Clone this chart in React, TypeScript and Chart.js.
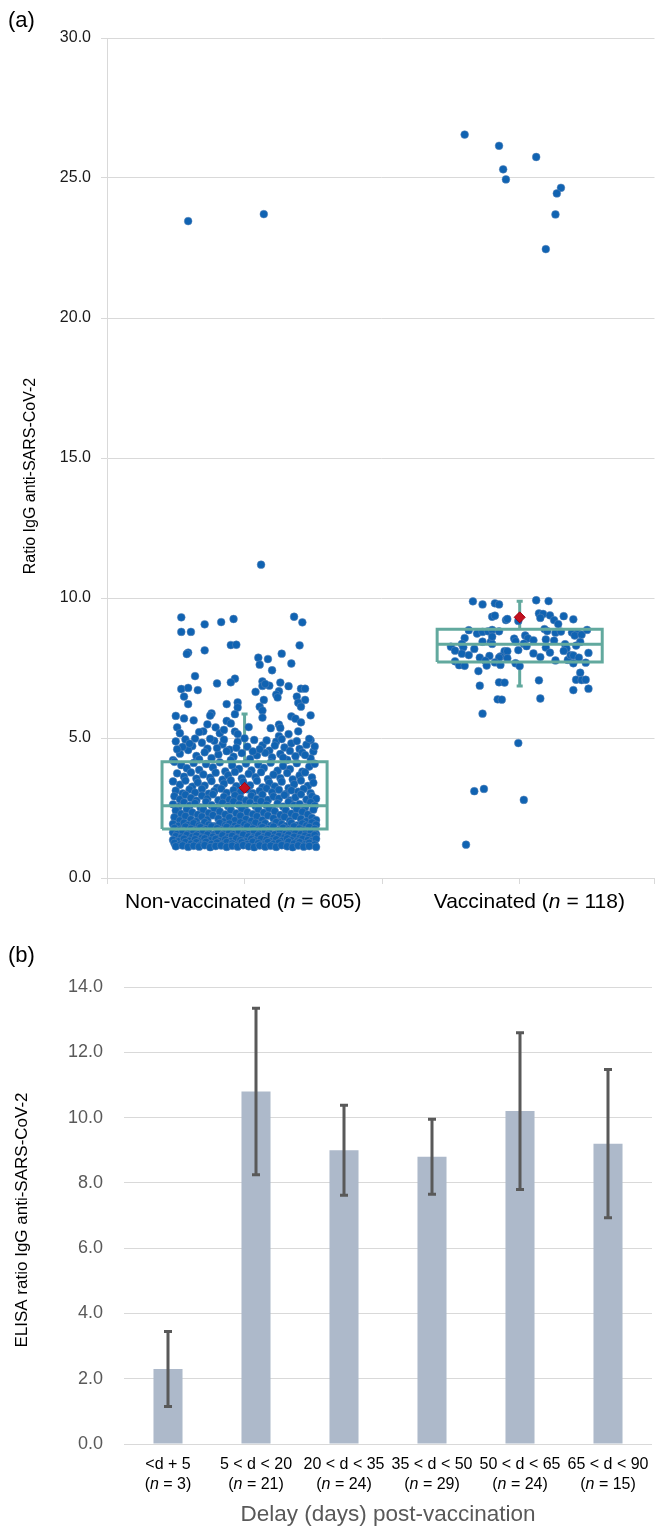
import React, { useEffect, useRef } from 'react';
import { Chart, registerables } from 'chart.js';

Chart.register(...registerables);

const FONT = '"Liberation Sans", Arial, Helvetica, sans-serif';

// ---------- Panel (a) data ----------
const groupNames = ['Non-vaccinated', 'Vaccinated'];
const groupCounts = [605, 118];
const groupCenters = [1, 3];
const groupLabelAnchors = [0.99, 3.07];

// [jitter offset from group centre, ratio]
const nonVaccinatedPoints: [number, number][] = [
  [-0.41, 23.46], [0.14, 23.71], [0.12, 11.19],
  [-0.46, 9.31], [0.36, 9.33], [-0.08, 9.25], [-0.17, 9.14], [-0.29, 9.06], [0.42, 9.13], [-0.46, 8.79], [-0.39, 8.79],
  [-0.41, 8.05], [-0.42, 8.0], [-0.29, 8.13], [-0.1, 8.32], [-0.06, 8.33], [0.4, 8.31], [0.27, 8.01], [0.1, 7.87],
  [0.17, 7.82], [0.11, 7.62], [0.34, 7.66], [0.2, 7.42], [-0.36, 7.21], [-0.07, 7.12], [-0.1, 6.99], [-0.2, 6.95],
  [0.13, 7.02], [0.13, 6.86], [0.18, 6.87], [0.15, 6.93], [0.26, 6.98], [0.32, 6.85], [-0.46, 6.75], [-0.41, 6.79],
  [-0.34, 6.71], [0.41, 6.76], [0.44, 6.76], [0.08, 6.65], [0.25, 6.67], [0.23, 6.55], [0.24, 6.45], [-0.44, 6.48],
  [0.38, 6.48], [0.44, 6.36], [0.39, 6.26], [0.41, 6.12], [-0.41, 6.21], [-0.13, 6.21], [-0.05, 6.27], [-0.05, 6.09],
  [0.11, 6.12], [0.14, 6.36], [0.13, 5.98], [-0.5, 5.79], [-0.44, 5.7], [-0.24, 5.88], [-0.25, 5.8], [-0.37, 5.63],
  [-0.07, 5.85], [-0.13, 5.61], [-0.1, 5.52], [0.13, 5.73], [0.34, 5.77], [0.37, 5.69], [0.41, 5.56], [0.48, 5.81],
  [-0.49, 5.38], [-0.47, 5.17], [-0.27, 5.49], [-0.21, 5.38], [-0.3, 5.24], [-0.33, 5.21], [-0.18, 5.17], [-0.15, 5.29],
  [-0.07, 5.23], [-0.05, 5.14], [0.03, 5.39], [0.19, 5.35], [0.25, 5.48], [0.26, 5.36], [0.32, 5.14], [0.25, 5.07],
  [0.39, 5.24], [0.48, 4.92],
  [-0.5, 4.88], [-0.43, 4.95], [-0.38, 4.71], [-0.31, 4.83], [-0.27, 4.62], [-0.22, 4.9], [-0.16, 4.77], [-0.11, 4.58],
  [-0.05, 4.86], [0.02, 4.69], [0.07, 4.93], [0.13, 4.74], [0.18, 4.55], [0.23, 4.87], [0.29, 4.66], [0.34, 4.81],
  [0.4, 4.61], [0.45, 4.76], [0.5, 4.52], [-0.47, 4.44], [-0.41, 4.57], [-0.35, 4.36], [-0.29, 4.49], [-0.24, 4.28],
  [-0.19, 4.41], [-0.13, 4.53], [-0.08, 4.33], [-0.02, 4.46], [0.04, 4.25], [0.09, 4.38], [0.15, 4.47], [0.2, 4.31],
  [0.26, 4.43], [0.31, 4.22], [0.37, 4.35], [0.42, 4.48], [0.48, 4.27], [-0.52, 4.21], [-0.45, 4.68], [-0.36, 4.98],
  [-0.2, 4.64], [0.0, 4.99], [0.11, 4.6], [0.27, 4.96], [0.38, 4.89], [0.47, 4.97], [-0.33, 4.24], [0.06, 4.52],
  [0.22, 4.73], [-0.06, 4.65], [0.33, 4.54], [-0.4, 4.8], [0.16, 4.91], [-0.25, 4.97], [0.44, 4.39], [-0.1, 4.21],
  [0.51, 4.7], [-0.49, 4.6], [0.28, 4.3], [-0.15, 4.94],
  [-0.51, 4.15], [-0.46, 4.03], [-0.42, 3.92], [-0.37, 4.11], [-0.33, 3.86], [-0.28, 4.07], [-0.23, 3.95], [-0.18, 4.13],
  [-0.14, 3.81], [-0.09, 4.02], [-0.04, 3.9], [0.01, 4.09], [0.05, 3.84], [0.1, 4.05], [0.14, 3.93], [0.19, 4.12],
  [0.24, 3.83], [0.28, 4.0], [0.33, 3.89], [0.38, 4.1], [0.42, 3.8], [0.47, 3.98], [0.51, 4.08],
  [-0.49, 3.74], [-0.44, 3.62], [-0.39, 3.77], [-0.35, 3.55], [-0.3, 3.7], [-0.25, 3.58], [-0.21, 3.76], [-0.16, 3.51],
  [-0.12, 3.67], [-0.07, 3.79], [-0.02, 3.56], [0.03, 3.72], [0.08, 3.6], [0.12, 3.78], [0.17, 3.53], [0.21, 3.69],
  [0.26, 3.57], [0.31, 3.75], [0.35, 3.52], [0.4, 3.66], [0.44, 3.77], [0.49, 3.59],
  [-0.52, 3.45], [-0.47, 3.33], [-0.43, 3.48], [-0.38, 3.26], [-0.34, 3.41], [-0.29, 3.3], [-0.24, 3.46], [-0.2, 3.22],
  [-0.15, 3.37], [-0.1, 3.49], [-0.06, 3.28], [-0.01, 3.43], [0.04, 3.31], [0.09, 3.47], [0.13, 3.24], [0.18, 3.39],
  [0.22, 3.27], [0.27, 3.44], [0.32, 3.21], [0.36, 3.35], [0.41, 3.48], [0.46, 3.29], [0.5, 3.4],
  [-0.5, 3.12], [-0.45, 3.02], [-0.4, 3.16], [-0.36, 3.05], [-0.31, 3.18], [-0.26, 3.01], [-0.22, 3.1], [-0.17, 3.19],
  [-0.13, 3.04], [-0.08, 3.14], [-0.03, 3.07], [0.02, 3.17], [0.06, 3.03], [0.11, 3.11], [0.16, 3.2], [0.2, 3.06],
  [0.25, 3.15], [0.3, 3.0], [0.34, 3.13], [0.39, 3.08], [0.43, 3.18], [0.48, 3.03],
  [-0.51, 2.92], [-0.47, 2.81], [-0.43, 2.97], [-0.39, 2.86], [-0.35, 2.76], [-0.31, 2.94], [-0.27, 2.83], [-0.23, 2.99],
  [-0.19, 2.78], [-0.15, 2.9], [-0.11, 2.8], [-0.07, 2.95], [-0.03, 2.85], [0.01, 2.77], [0.05, 2.93], [0.09, 2.82],
  [0.13, 2.98], [0.17, 2.79], [0.21, 2.91], [0.25, 2.84], [0.29, 2.96], [0.33, 2.77], [0.37, 2.88], [0.41, 2.99],
  [0.45, 2.8], [0.49, 2.92], [0.52, 2.83],
  [-0.52, 2.63], [-0.48, 2.54], [-0.44, 2.7], [-0.4, 2.58], [-0.36, 2.67], [-0.32, 2.52], [-0.28, 2.72], [-0.24, 2.6],
  [-0.2, 2.51], [-0.16, 2.68], [-0.12, 2.56], [-0.08, 2.73], [-0.04, 2.62], [0.0, 2.53], [0.04, 2.69], [0.08, 2.57],
  [0.12, 2.74], [0.16, 2.61], [0.2, 2.5], [0.24, 2.66], [0.28, 2.55], [0.32, 2.71], [0.36, 2.59], [0.4, 2.64],
  [0.44, 2.52], [0.48, 2.7], [0.51, 2.58],
  [-0.5, 2.41], [-0.46, 2.29], [-0.42, 2.46], [-0.38, 2.34], [-0.34, 2.26], [-0.3, 2.44], [-0.26, 2.32], [-0.22, 2.49],
  [-0.18, 2.37], [-0.14, 2.27], [-0.1, 2.43], [-0.06, 2.31], [-0.02, 2.47], [0.02, 2.35], [0.06, 2.28], [0.1, 2.45],
  [0.14, 2.33], [0.18, 2.48], [0.22, 2.38], [0.26, 2.25], [0.3, 2.42], [0.34, 2.3], [0.38, 2.46], [0.42, 2.36],
  [0.46, 2.27], [0.5, 2.44],
  [-0.51, 2.17], [-0.47, 2.05], [-0.43, 2.21], [-0.39, 2.09], [-0.35, 2.02], [-0.31, 2.19], [-0.27, 2.08], [-0.23, 2.24],
  [-0.19, 2.12], [-0.15, 2.01], [-0.11, 2.16], [-0.07, 2.06], [-0.03, 2.22], [0.01, 2.1], [0.05, 2.03], [0.09, 2.2],
  [0.13, 2.07], [0.17, 2.23], [0.21, 2.13], [0.25, 2.0], [0.29, 2.18], [0.33, 2.04], [0.37, 2.21], [0.41, 2.11],
  [0.45, 2.02], [0.49, 2.15], [0.52, 2.07],
  [-0.52, 1.93], [-0.48, 1.86], [-0.44, 1.97], [-0.41, 1.89], [-0.37, 1.95], [-0.33, 1.87], [-0.29, 1.99], [-0.26, 1.9],
  [-0.22, 1.85], [-0.18, 1.96], [-0.14, 1.88], [-0.11, 1.94], [-0.07, 1.86], [-0.03, 1.98], [0.0, 1.91], [0.04, 1.87],
  [0.08, 1.97], [0.12, 1.89], [0.15, 1.95], [0.19, 1.86], [0.23, 1.99], [0.27, 1.92], [0.3, 1.85], [0.34, 1.96],
  [0.38, 1.88], [0.42, 1.94], [0.45, 1.87], [0.49, 1.98], [0.52, 1.9],
  [-0.51, 1.78], [-0.47, 1.72], [-0.43, 1.83], [-0.39, 1.75], [-0.35, 1.71], [-0.32, 1.81], [-0.28, 1.74], [-0.24, 1.84],
  [-0.2, 1.77], [-0.17, 1.7], [-0.13, 1.82], [-0.09, 1.73], [-0.05, 1.79], [-0.02, 1.71], [0.02, 1.84], [0.06, 1.76],
  [0.1, 1.72], [0.13, 1.81], [0.17, 1.74], [0.21, 1.83], [0.25, 1.7], [0.28, 1.79], [0.32, 1.73], [0.36, 1.84],
  [0.4, 1.76], [0.43, 1.71], [0.47, 1.82], [0.51, 1.75],
  [-0.52, 1.63], [-0.49, 1.57], [-0.45, 1.68], [-0.41, 1.6], [-0.37, 1.66], [-0.34, 1.56], [-0.3, 1.69], [-0.26, 1.61],
  [-0.22, 1.55], [-0.19, 1.67], [-0.15, 1.59], [-0.11, 1.64], [-0.08, 1.56], [-0.04, 1.68], [0.0, 1.62], [0.03, 1.57],
  [0.07, 1.66], [0.11, 1.59], [0.15, 1.69], [0.18, 1.61], [0.22, 1.55], [0.26, 1.65], [0.3, 1.58], [0.33, 1.68],
  [0.37, 1.6], [0.41, 1.56], [0.45, 1.67], [0.48, 1.62], [0.52, 1.57],
  [-0.5, 1.49], [-0.46, 1.44], [-0.42, 1.53], [-0.38, 1.46], [-0.35, 1.51], [-0.31, 1.43], [-0.27, 1.54], [-0.23, 1.47],
  [-0.2, 1.42], [-0.16, 1.52], [-0.12, 1.45], [-0.09, 1.5], [-0.05, 1.43], [-0.01, 1.54], [0.03, 1.48], [0.06, 1.44],
  [0.1, 1.52], [0.14, 1.46], [0.17, 1.53], [0.21, 1.43], [0.25, 1.5], [0.29, 1.45], [0.32, 1.54], [0.36, 1.47],
  [0.4, 1.42], [0.44, 1.51], [0.47, 1.46], [0.51, 1.53],
  [-0.52, 1.36], [-0.48, 1.31], [-0.44, 1.4], [-0.4, 1.33], [-0.36, 1.38], [-0.33, 1.3], [-0.29, 1.41], [-0.25, 1.34],
  [-0.21, 1.39], [-0.18, 1.31], [-0.14, 1.37], [-0.1, 1.32], [-0.06, 1.41], [-0.03, 1.35], [0.01, 1.3], [0.05, 1.39],
  [0.08, 1.33], [0.12, 1.4], [0.16, 1.36], [0.19, 1.31], [0.23, 1.38], [0.27, 1.32], [0.31, 1.41], [0.34, 1.34],
  [0.38, 1.3], [0.42, 1.39], [0.46, 1.35], [0.49, 1.31], [0.52, 1.4],
  [-0.51, 1.25], [-0.47, 1.19], [-0.43, 1.28], [-0.39, 1.22], [-0.35, 1.27], [-0.32, 1.18], [-0.28, 1.29], [-0.24, 1.21],
  [-0.2, 1.26], [-0.16, 1.19], [-0.13, 1.28], [-0.09, 1.23], [-0.05, 1.18], [-0.02, 1.27], [0.02, 1.21], [0.06, 1.29],
  [0.1, 1.24], [0.14, 1.19], [0.17, 1.28], [0.21, 1.22], [0.25, 1.26], [0.29, 1.18], [0.32, 1.29], [0.36, 1.23],
  [0.4, 1.27], [0.44, 1.2], [0.47, 1.25], [0.51, 1.19],
  [-0.5, 1.13], [-0.45, 1.16], [-0.41, 1.11], [-0.37, 1.15], [-0.33, 1.12], [-0.29, 1.17], [-0.25, 1.1], [-0.21, 1.14],
  [-0.17, 1.16], [-0.13, 1.11], [-0.09, 1.15], [-0.05, 1.12], [-0.01, 1.17], [0.03, 1.13], [0.07, 1.1], [0.11, 1.16],
  [0.15, 1.12], [0.19, 1.15], [0.23, 1.11], [0.27, 1.17], [0.31, 1.13], [0.35, 1.1], [0.39, 1.16], [0.43, 1.12],
  [0.47, 1.14], [0.52, 1.11],
];

const vaccinatedPoints: [number, number][] = [
  [-0.4, 26.55], [-0.15, 26.15], [0.12, 25.75], [-0.12, 25.31], [-0.1, 24.95], [0.3, 24.65], [0.27, 24.45], [0.26, 23.7],
  [0.19, 22.46],
  [-0.34, 9.88], [-0.27, 9.77], [-0.18, 9.81], [-0.15, 9.77], [0.12, 9.92], [0.21, 9.89],
  [-0.2, 9.33], [-0.18, 9.37], [-0.1, 9.21], [-0.09, 9.25], [-0.01, 9.18], [0.14, 9.45], [0.17, 9.43], [0.22, 9.38],
  [0.15, 9.29], [0.25, 9.21], [0.28, 9.07], [0.32, 9.35], [0.39, 9.24],
  [-0.37, 8.85], [-0.31, 8.73], [-0.27, 8.79], [-0.23, 8.81], [-0.2, 8.86], [-0.15, 8.81], [0.18, 8.89], [0.2, 8.82],
  [0.26, 8.76], [0.3, 8.8], [0.38, 8.77], [0.42, 8.76], [0.4, 8.66], [0.45, 8.69], [0.49, 8.86],
  [-0.4, 8.57], [-0.5, 8.26], [-0.47, 8.12], [-0.42, 8.36], [-0.41, 8.24], [-0.42, 8.01], [-0.37, 7.96], [-0.27, 8.44],
  [-0.21, 8.43], [-0.2, 8.36], [-0.04, 8.55], [0.04, 8.66], [0.06, 8.56], [0.1, 8.49], [0.19, 8.52], [0.25, 8.48],
  [0.03, 8.37], [0.33, 8.35], [0.34, 8.2], [0.32, 8.11], [0.44, 8.43], [0.19, 8.23], [-0.01, 8.14], [-0.11, 8.1],
  [-0.09, 8.1], [-0.14, 7.91], [-0.15, 7.87], [-0.09, 7.85], [-0.22, 7.93], [-0.29, 7.87], [-0.25, 7.76], [-0.18, 7.7],
  [-0.24, 7.59], [0.1, 8.02], [0.15, 7.89], [0.26, 7.77], [0.35, 7.79], [0.37, 7.96], [0.39, 7.95], [0.43, 7.87],
  [0.5, 8.04], [0.39, 7.67], [0.48, 7.69], [-0.47, 7.74], [-0.44, 7.6], [-0.4, 7.58], [-0.14, 7.61], [-0.03, 7.67],
  [0.0, 7.57], [0.05, 8.28], [-0.03, 8.45], [0.22, 8.05], [-0.33, 8.18], [0.41, 8.3], [-0.2, 8.62],
  [-0.3, 7.39], [0.44, 7.33], [-0.29, 6.87], [-0.15, 6.99], [-0.11, 6.98], [0.14, 7.06], [0.41, 7.08], [0.45, 7.07],
  [0.48, 7.08], [0.5, 6.76], [0.39, 6.71], [-0.16, 6.38], [-0.13, 6.37], [0.15, 6.41], [-0.27, 5.87], [-0.01, 4.82],
  [-0.33, 3.1], [-0.26, 3.18], [0.03, 2.79], [-0.39, 1.19],
];

// [lower whisker, Q1, median, Q3, upper whisker, mean]
const nonVaccinatedBox = [1.1, 1.75, 2.58, 4.15, 5.86, 3.22];
const vaccinatedBox = [6.86, 7.71, 8.35, 8.88, 9.88, 9.31];

// ---------- Panel (b) data ----------
const delayLabels = ['<d + 5', '5 < d < 20', '20 < d < 35', '35 < d < 50', '50 < d < 65', '65 < d < 90'];
const delayCounts = [3, 21, 24, 29, 24, 15];
const delayMeans = [2.3, 10.8, 9.0, 8.8, 10.2, 9.2];
const delayErrors = [1.15, 2.55, 1.38, 1.15, 2.4, 2.27];

// ---------- helpers ----------
type Part = { t: string; i?: boolean };

function countParts(prefix: string, count: number): Part[] {
  return [{ t: prefix + '(' }, { t: 'n', i: true }, { t: ' = ' + count + ')' }];
}

function drawParts(ctx: CanvasRenderingContext2D, parts: Part[], cx: number, cy: number, size: number, color: string) {
  ctx.save();
  ctx.fillStyle = color;
  ctx.textBaseline = 'middle';
  ctx.textAlign = 'left';
  const fonts = parts.map((p) => `${p.i ? 'italic ' : ''}${size}px ${FONT}`);
  let total = 0;
  const widths = parts.map((p, k) => {
    ctx.font = fonts[k];
    const w = ctx.measureText(p.t).width;
    total += w;
    return w;
  });
  let x = cx - total / 2;
  parts.forEach((p, k) => {
    ctx.font = fonts[k];
    ctx.fillText(p.t, x, cy);
    x += widths[k];
  });
  ctx.restore();
}

function drawRotated(ctx: CanvasRenderingContext2D, text: string, x: number, y: number, size: number, color: string) {
  ctx.save();
  ctx.translate(x, y);
  ctx.rotate(-Math.PI / 2);
  ctx.font = `${size}px ${FONT}`;
  ctx.fillStyle = color;
  ctx.textAlign = 'center';
  ctx.textBaseline = 'middle';
  ctx.fillText(text, 0, 0);
  ctx.restore();
}

const BOX_HALF = 0.6;
const CAP_HALF = 0.022;

function boxFrame(center: number, s: number[]) {
  const [, q1, med, q3] = s;
  const gap = { x: center, y: null as any };
  return [
    { x: center - BOX_HALF, y: q1 }, { x: center - BOX_HALF, y: q3 }, { x: center + BOX_HALF, y: q3 },
    { x: center + BOX_HALF, y: q1 }, { x: center - BOX_HALF, y: q1 }, gap,
    { x: center - BOX_HALF, y: med }, { x: center + BOX_HALF, y: med },
  ];
}

function whiskers(center: number, s: number[]) {
  const [lo, q1, , q3, hi] = s;
  const gap = { x: center, y: null as any };
  return [
    { x: center, y: q3 }, { x: center, y: hi }, gap,
    { x: center - CAP_HALF, y: hi }, { x: center + CAP_HALF, y: hi }, gap,
    { x: center, y: q1 }, { x: center, y: lo }, gap,
    { x: center - CAP_HALF, y: lo }, { x: center + CAP_HALF, y: lo },
  ];
}

const TEAL = '#62A99E';
const DOT = '#1063B2';

export default function App() {
  const refA = useRef<HTMLCanvasElement>(null);
  const refB = useRef<HTMLCanvasElement>(null);

  useEffect(() => {
    const textA = {
      id: 'textA',
      afterDraw(chart: any) {
        const ctx = chart.ctx as CanvasRenderingContext2D;
        const xs = chart.scales.x;
        groupNames.forEach((name, g) => {
          drawParts(ctx, countParts(name + ' ', groupCounts[g]), xs.getPixelForValue(groupLabelAnchors[g]), 902, 21, '#000');
        });
        drawRotated(ctx, 'Ratio IgG anti-SARS-CoV-2', 31, 476, 16, '#000');
      },
    };

    const pointStyle = {
      type: 'scatter' as const,
      pointRadius: 3.9,
      pointBackgroundColor: DOT,
      pointBorderColor: '#5F87B8',
      pointBorderWidth: 0.5,
      showLine: false,
      order: 10,
    };
    const lineStyle = {
      type: 'scatter' as const,
      showLine: true,
      spanGaps: false,
      borderColor: TEAL,
      borderWidth: 3,
      pointRadius: 0,
      fill: false,
      borderJoinStyle: 'miter' as const,
    };

    const chartA = new Chart(refA.current!, {
      type: 'scatter',
      data: {
        datasets: [
          {
            label: 'mean',
            data: [
              { x: groupCenters[0], y: nonVaccinatedBox[5] },
              { x: groupCenters[1], y: vaccinatedBox[5] },
            ],
            pointStyle: 'rectRot',
            pointRadius: 5.5,
            pointBackgroundColor: '#C3101E',
            pointBorderColor: '#A00010',
            pointBorderWidth: 1,
            order: 0,
          } as any,
          { ...lineStyle, label: 'box1', data: boxFrame(groupCenters[0], nonVaccinatedBox), order: 1 } as any,
          { ...lineStyle, label: 'box2', data: boxFrame(groupCenters[1], vaccinatedBox), order: 1 } as any,
          { ...pointStyle, label: groupNames[0], data: nonVaccinatedPoints.map(([o, v]) => ({ x: groupCenters[0] + o, y: v })) } as any,
          { ...pointStyle, label: groupNames[1], data: vaccinatedPoints.map(([o, v]) => ({ x: groupCenters[1] + o, y: v })) } as any,
          { ...lineStyle, label: 'w1', data: whiskers(groupCenters[0], nonVaccinatedBox), order: 20 } as any,
          { ...lineStyle, label: 'w2', data: whiskers(groupCenters[1], vaccinatedBox), order: 20 } as any,
        ],
      },
      options: {
        responsive: false,
        animation: false,
        events: [],
        layout: { padding: { top: 38, left: 0, right: 0, bottom: 0 } },
        plugins: { legend: { display: false }, tooltip: { enabled: false }, title: { display: false } },
        scales: {
          x: {
            type: 'linear',
            min: 0,
            max: 3.98,
            ticks: { stepSize: 1, callback: () => '', autoSkip: false },
            grid: { drawOnChartArea: false, drawTicks: true, tickLength: 6, color: '#D9D9D9' },
            border: { color: '#D9D9D9' },
            afterFit: (s: any) => {
              s.height = 62;
            },
          },
          y: {
            min: 0,
            max: 30,
            ticks: {
              stepSize: 5,
              callback: (v: any) => Number(v).toFixed(1),
              color: '#1a1a1a',
              font: { family: FONT, size: 16 },
              padding: 10,
            },
            grid: { color: '#D9D9D9', tickLength: 6 },
            border: { color: '#D9D9D9' },
            afterFit: (s: any) => {
              s.width = 107;
            },
          },
        },
      },
      plugins: [textA],
    });

    const errorBars = {
      id: 'errorBars',
      afterDatasetsDraw(chart: any) {
        const ctx = chart.ctx as CanvasRenderingContext2D;
        const ys = chart.scales.y;
        const meta = chart.getDatasetMeta(0);
        ctx.save();
        ctx.strokeStyle = '#595959';
        ctx.lineWidth = 3;
        ctx.lineCap = 'butt';
        meta.data.forEach((bar: any, i: number) => {
          const top = ys.getPixelForValue(delayMeans[i] + delayErrors[i]);
          const bot = ys.getPixelForValue(delayMeans[i] - delayErrors[i]);
          ctx.beginPath();
          ctx.moveTo(bar.x, top);
          ctx.lineTo(bar.x, bot);
          ctx.moveTo(bar.x - 4, top);
          ctx.lineTo(bar.x + 4, top);
          ctx.moveTo(bar.x - 4, bot);
          ctx.lineTo(bar.x + 4, bot);
          ctx.stroke();
        });
        ctx.restore();
      },
    };

    const textB = {
      id: 'textB',
      afterDraw(chart: any) {
        const ctx = chart.ctx as CanvasRenderingContext2D;
        const meta = chart.getDatasetMeta(0);
        meta.data.forEach((bar: any, i: number) => {
          drawParts(ctx, [{ t: delayLabels[i] }], bar.x, 525, 16, '#000');
          drawParts(ctx, countParts('', delayCounts[i]), bar.x, 545, 16, '#000');
        });
        const area = chart.chartArea;
        drawParts(ctx, [{ t: 'Delay (days) post-vaccination' }], (area.left + area.right) / 2, 575, 22.5, '#595959');
        drawRotated(ctx, 'ELISA ratio IgG anti-SARS-CoV-2', 22, 280, 17, '#000');
      },
    };

    const chartB = new Chart(refB.current!, {
      type: 'bar',
      data: {
        labels: delayLabels,
        datasets: [
          {
            data: delayMeans,
            backgroundColor: '#ADB9CA',
            barPercentage: 0.33,
            categoryPercentage: 1,
          },
        ],
      },
      options: {
        responsive: false,
        animation: false,
        events: [],
        layout: { padding: { top: 47, left: 0, right: 9, bottom: 0 } },
        plugins: { legend: { display: false }, tooltip: { enabled: false } },
        scales: {
          x: {
            ticks: { display: false },
            grid: { display: false },
            border: { display: false },
            afterFit: (s: any) => {
              s.height = 89;
            },
          },
          y: {
            min: 0,
            max: 14,
            ticks: {
              stepSize: 2,
              callback: (v: any) => Number(v).toFixed(1),
              color: '#595959',
              font: { family: FONT, size: 18 },
              padding: 21,
            },
            grid: { color: '#D9D9D9', drawTicks: false },
            border: { display: false },
            afterFit: (s: any) => {
              s.width = 124;
            },
          },
        },
      },
      plugins: [errorBars, textB],
    });

    return () => {
      chartA.destroy();
      chartB.destroy();
    };
  }, []);

  const tag: React.CSSProperties = {
    position: 'absolute',
    left: 8,
    fontFamily: FONT,
    fontSize: 22,
    lineHeight: '26px',
    color: '#000',
  };

  return (
    <div style={{ position: 'absolute', left: 0, top: 0, width: 661, height: 1533, background: '#fff' }}>
      <canvas ref={refA} width={661} height={940} style={{ position: 'absolute', left: 0, top: 0, display: 'block' }} />
      <canvas ref={refB} width={661} height={593} style={{ position: 'absolute', left: 0, top: 940, display: 'block' }} />
      <div style={{ ...tag, top: 7 }}>(a)</div>
      <div style={{ ...tag, top: 942 }}>(b)</div>
    </div>
  );
}
